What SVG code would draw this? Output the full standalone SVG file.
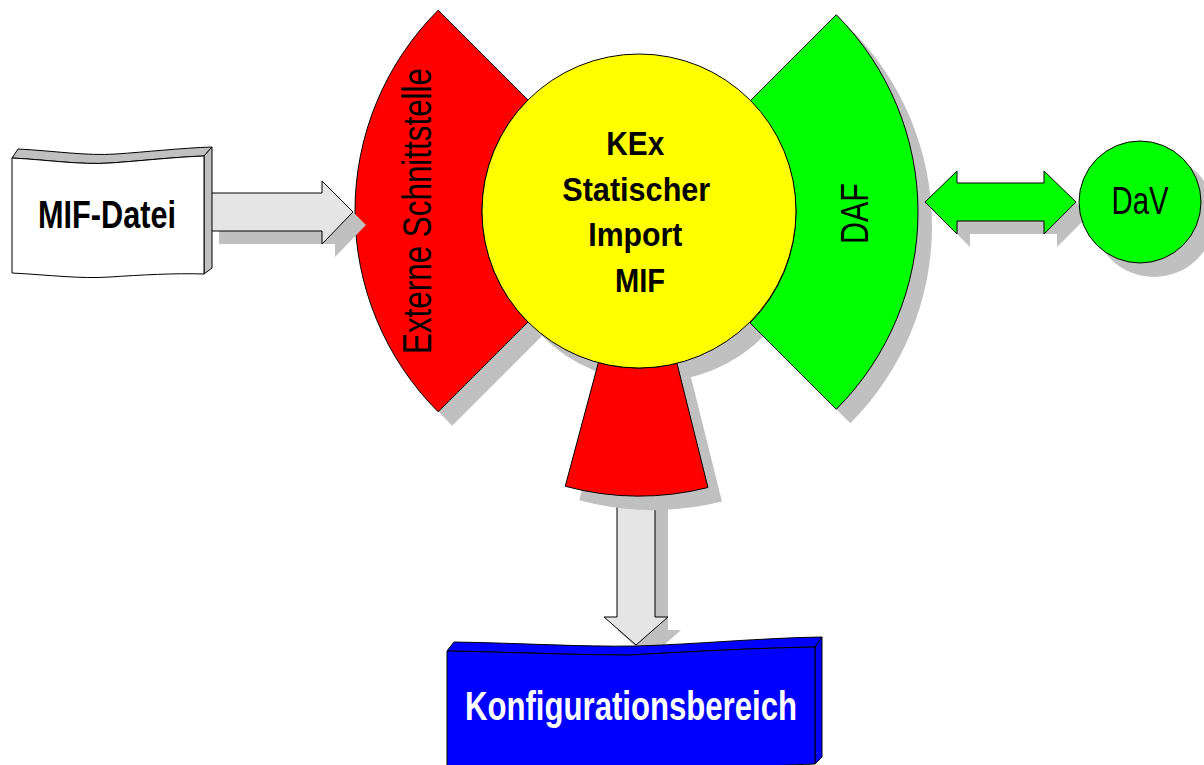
<svg xmlns="http://www.w3.org/2000/svg" width="1204" height="765" viewBox="0 0 1204 765">
<style>
.sh{fill:#c0c0c0;stroke:none}
.ln{stroke:#000;stroke-width:1;stroke-linejoin:miter}
.red{fill:#ff0000}
.grn{fill:#00ff00}
.yel{fill:#ffff00}
.gry{fill:#e5e5e5}
.side{fill:#c0c0c0}
.blu{fill:#0000ff}
.t{font-family:"Liberation Sans Narrow","Liberation Sans",Arial,sans-serif;fill:#000}
.b{font-weight:bold}
</style>
<defs>
<path id="secL" d="M 527.98 99.98 L 438.18 10.18 A 284 284 0 0 0 438.18 411.82 L 527.98 322.02 A 157 157 0 0 1 527.98 99.98 Z"/>
<path id="secR" d="M 750.02 100.98 L 836.28 14.72 A 279 279 0 0 1 836.28 409.28 L 750.02 323.02 A 157 157 0 0 0 750.02 100.98 Z"/>
<path id="secB" d="M 598.37 362.65 L 565.23 486.29 A 285 285 0 0 0 707.95 487.53 L 676.98 363.34 A 157 157 0 0 1 598.37 362.65 Z"/>
<polygon id="arrDown" points="617,490 655,490 655,617 668,617 636,645 604,617 617,617"/>
<polygon id="arrRight" points="206,193 322,193 322,181 353,212 322,244 322,231 206,231"/>
<polygon id="arrDouble" points="925,202 957,171 957,183 1044,183 1044,171 1076,202 1044,234 1044,221 957,221 957,234"/>
</defs>

<g id="connectors">
  <use href="#arrDown" class="sh" transform="translate(13,13)"/>
  <use href="#arrDown" class="gry ln"/>
</g>

<g id="shadows">
  <use href="#secL" class="sh" transform="translate(14,14)"/>
  <use href="#secB" class="sh" transform="translate(14,14)"/>
  <use href="#secR" class="sh" transform="translate(14,14)"/>
  <circle cx="653" cy="225" r="157" class="sh"/>
</g>

<g id="externe-schnittstelle">
  <use href="#secL" class="red ln"/>
  <text class="t" font-size="40" text-anchor="middle" textLength="286" lengthAdjust="spacingAndGlyphs" transform="translate(431,211) rotate(-90)">Externe Schnittstelle</text>
</g>

<g id="bottom-port">
  <use href="#secB" class="red ln"/>
</g>

<g id="daf">
  <use href="#secR" class="grn ln"/>
  <text class="t" font-size="39" text-anchor="middle" textLength="61" lengthAdjust="spacingAndGlyphs" transform="translate(868,213.5) rotate(-90)">DAF</text>
</g>

<g id="kex">
  <circle cx="639" cy="211" r="157" class="yel ln"/>
  <text class="t b" font-size="34" text-anchor="middle">
    <tspan x="640" y="155" textLength="58" lengthAdjust="spacingAndGlyphs">KEx</tspan>
    <tspan x="641" y="200.5" textLength="148" lengthAdjust="spacingAndGlyphs">Statischer</tspan>
    <tspan x="640" y="246" textLength="94" lengthAdjust="spacingAndGlyphs">Import</tspan>
    <tspan x="640" y="291.5" textLength="50" lengthAdjust="spacingAndGlyphs">MIF</tspan>
  </text>
</g>

<g id="connectors-2">
  <use href="#arrRight" class="sh" transform="translate(13,13)"/>
  <use href="#arrRight" class="gry ln"/>
  <use href="#arrDouble" class="sh" transform="translate(13,13)"/>
  <use href="#arrDouble" class="grn ln"/>
</g>

<g id="dav">
  <circle cx="1154" cy="216" r="61" class="sh"/>
  <circle cx="1140" cy="202" r="61" class="grn ln"/>
  <text class="t" x="1140" y="214" font-size="38" text-anchor="middle" textLength="57" lengthAdjust="spacingAndGlyphs">DaV</text>
</g>

<g id="mif-datei">
  <path class="side ln" d="M 12 158 L 18 149 C 56 151, 86 156, 116 154 C 146 152, 181 148, 212 147 L 204 156 C 175 157, 140 161, 110 163 C 80 165, 50 160, 12 158 Z"/>
  <path class="side ln" d="M 204 156 L 212 147 L 212 268 L 204 274 Z"/>
  <path class="ln" fill="#ffffff" d="M 12 158 C 50 160, 80 165, 110 163 C 140 161, 175 157, 204 156 L 204 274 C 175 273, 140 275, 110 277 C 80 279, 50 275, 12 273 Z"/>
  <text class="t b" x="107" y="228" font-size="39" text-anchor="middle" textLength="138" lengthAdjust="spacingAndGlyphs">MIF-Datei</text>
</g>

<g id="konfigurationsbereich">
  <path class="blu ln" d="M 447 651 L 454 642 C 520 643, 580 647, 637 646 C 700 644, 760 638, 822 637 L 815 647 C 760 648, 700 651, 630 655 C 570 655, 510 652, 447 651 Z"/>
  <path class="blu ln" d="M 815 647 L 822 637 L 822 757 L 815 764 Z"/>
  <path class="blu ln" d="M 447 651 C 510 652, 570 655, 630 655 C 700 651, 760 648, 815 647 L 815 764 C 760 766, 700 770, 630 772 C 570 774, 510 776, 447 776 Z"/>
  <text x="631" y="720" font-size="40" text-anchor="middle" textLength="332" lengthAdjust="spacingAndGlyphs" font-weight="bold" font-family="Liberation Sans Narrow, Liberation Sans, Arial, sans-serif" fill="#ffffff">Konfigurationsbereich</text>
</g>
</svg>
